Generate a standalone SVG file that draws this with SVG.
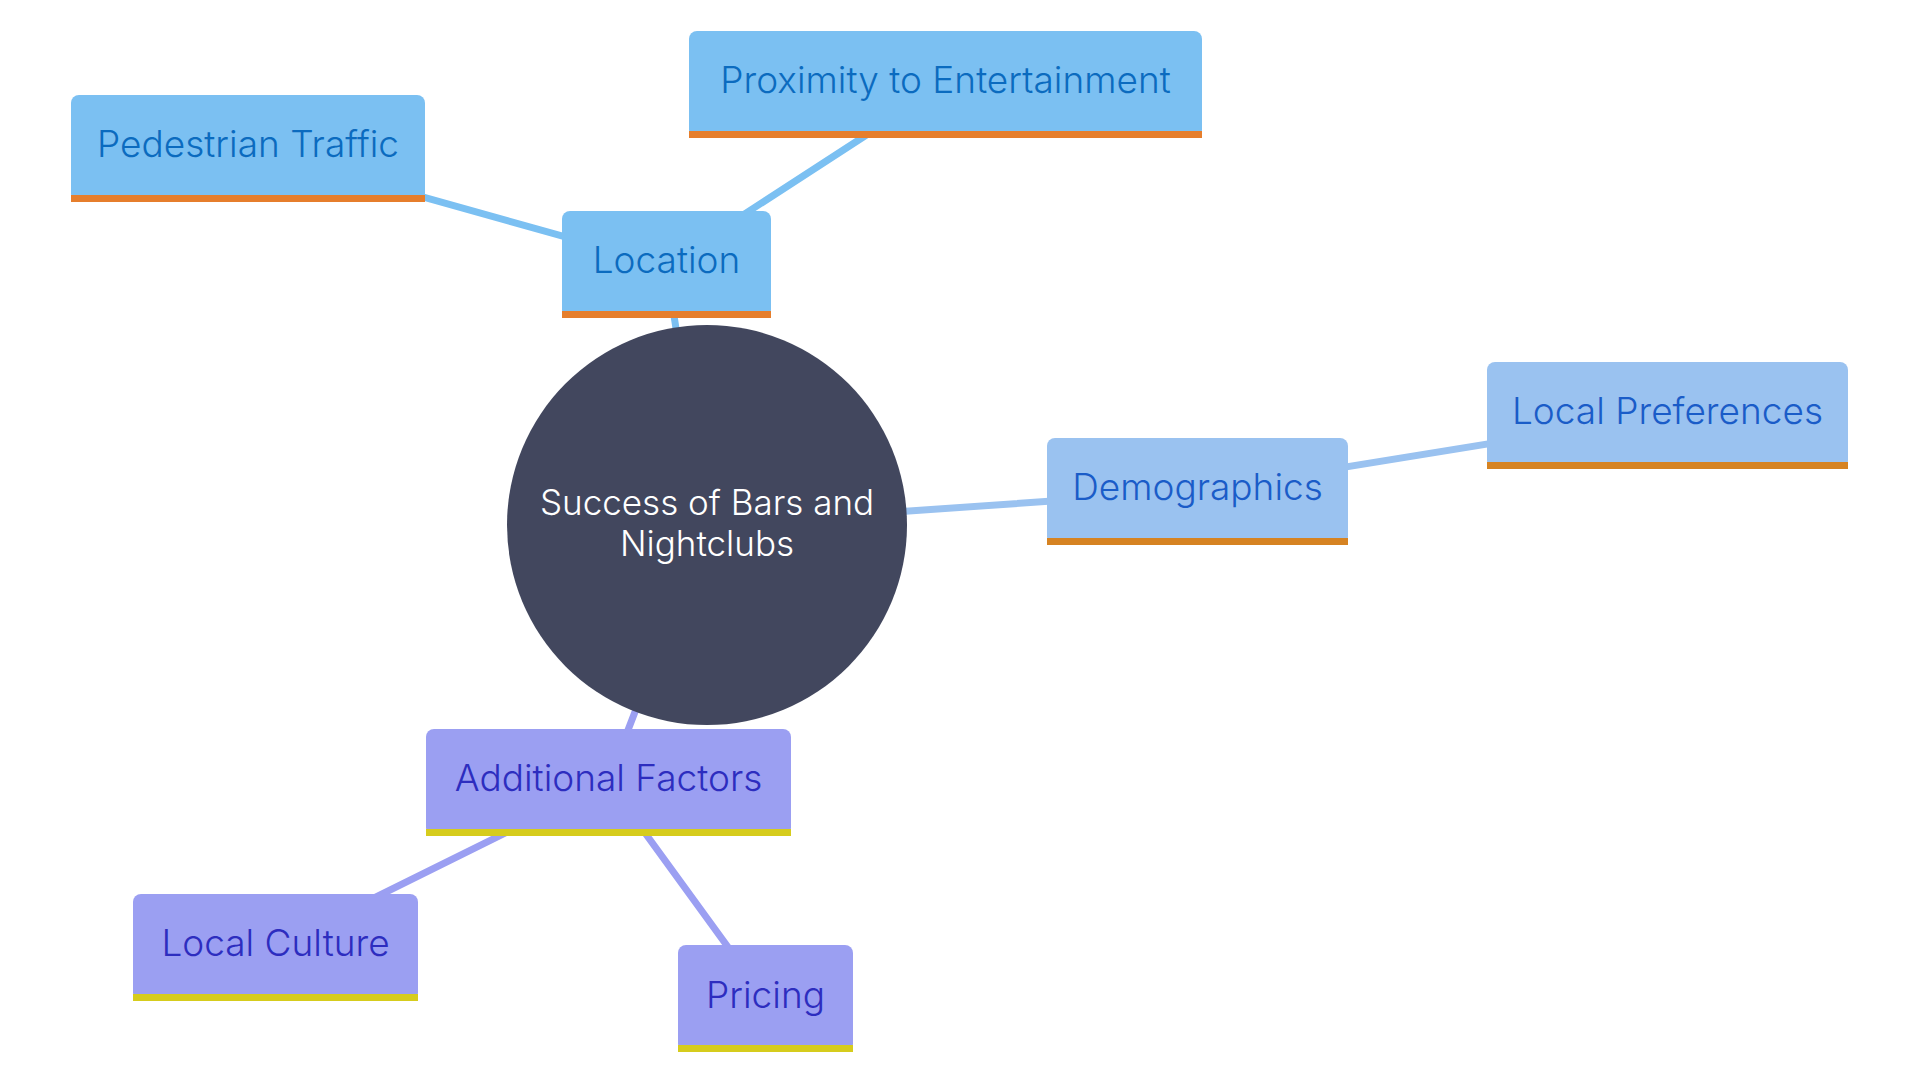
<svg xmlns="http://www.w3.org/2000/svg" width="1920" height="1080" viewBox="0 0 1920 1080">
  <style>
    text { font-family: Inter, "Noto Sans", "Liberation Sans", sans-serif; font-size: 37px; font-weight: 300; text-anchor: middle; }
    .c1 { stroke: #7BC0F2; }
    .c2 { stroke: #9AC2F0; }
    .c3 { stroke: #9B9FF2; }
    .edges line { stroke-width: 7; stroke-linecap: round; }
    .n1 .box { fill: #7BC0F2; } .n1 .band { fill: #E67E2C; } .n1 text { fill: #0B6BBF; }
    .n2 .box { fill: #9AC2F0; } .n2 .band { fill: #D68322; } .n2 text { fill: #1A5CC8; }
    .n3 .box { fill: #9B9FF2; } .n3 .band { fill: #D6CC1D; } .n3 text { fill: #2D2DBF; }
    .root text { fill: #FFFFFF; font-size: 35px; }
  </style>
  <rect width="1920" height="1080" fill="#FFFFFF"/>
  <g id="connectors" class="edges">
    <line class="c1" x1="707" y1="525" x2="666" y2="265"/>
    <line class="c1" x1="666" y1="265" x2="248" y2="148"/>
    <line class="c1" x1="666" y1="265" x2="945" y2="84"/>
    <line class="c2" x1="707" y1="525" x2="1197" y2="491"/>
    <line class="c2" x1="1197" y1="491" x2="1667" y2="415"/>
    <line class="c3" x1="707" y1="525" x2="608" y2="782"/>
    <line class="c3" x1="608" y1="782" x2="275" y2="947"/>
    <line class="c3" x1="608" y1="782" x2="765" y2="998"/>
  </g>
  <g id="root" class="root">
    <circle cx="707" cy="525" r="200" fill="#42475E"/>
    <text x="707" y="515">Success of Bars and</text>
    <text x="707" y="556">Nightclubs</text>
  </g>
  <g id="location" class="n1">
    <rect class="box" x="562" y="211" width="209" height="107" rx="8"/>
    <rect class="band" x="562" y="311" width="209" height="7"/>
    <text x="666.5" y="273">Location</text>
  </g>
  <g id="pedestrian-traffic" class="n1">
    <rect class="box" x="71" y="95" width="354" height="107" rx="8"/>
    <rect class="band" x="71" y="195" width="354" height="7"/>
    <text x="248" y="157">Pedestrian Traffic</text>
  </g>
  <g id="proximity" class="n1">
    <rect class="box" x="689" y="31" width="513" height="107" rx="8"/>
    <rect class="band" x="689" y="131" width="513" height="7"/>
    <text x="945.5" y="93">Proximity to Entertainment</text>
  </g>
  <g id="demographics" class="n2">
    <rect class="box" x="1047" y="438" width="301" height="107" rx="8"/>
    <rect class="band" x="1047" y="538" width="301" height="7"/>
    <text x="1197.5" y="500">Demographics</text>
  </g>
  <g id="local-preferences" class="n2">
    <rect class="box" x="1487" y="362" width="361" height="107" rx="8"/>
    <rect class="band" x="1487" y="462" width="361" height="7"/>
    <text x="1667.5" y="424">Local Preferences</text>
  </g>
  <g id="additional-factors" class="n3">
    <rect class="box" x="426" y="729" width="365" height="107" rx="8"/>
    <rect class="band" x="426" y="829" width="365" height="7"/>
    <text x="608.5" y="791">Additional Factors</text>
  </g>
  <g id="local-culture" class="n3">
    <rect class="box" x="133" y="894" width="285" height="107" rx="8"/>
    <rect class="band" x="133" y="994" width="285" height="7"/>
    <text x="275.5" y="956">Local Culture</text>
  </g>
  <g id="pricing" class="n3">
    <rect class="box" x="678" y="945" width="175" height="107" rx="8"/>
    <rect class="band" x="678" y="1045" width="175" height="7"/>
    <text x="765.5" y="1008">Pricing</text>
  </g>
</svg>
